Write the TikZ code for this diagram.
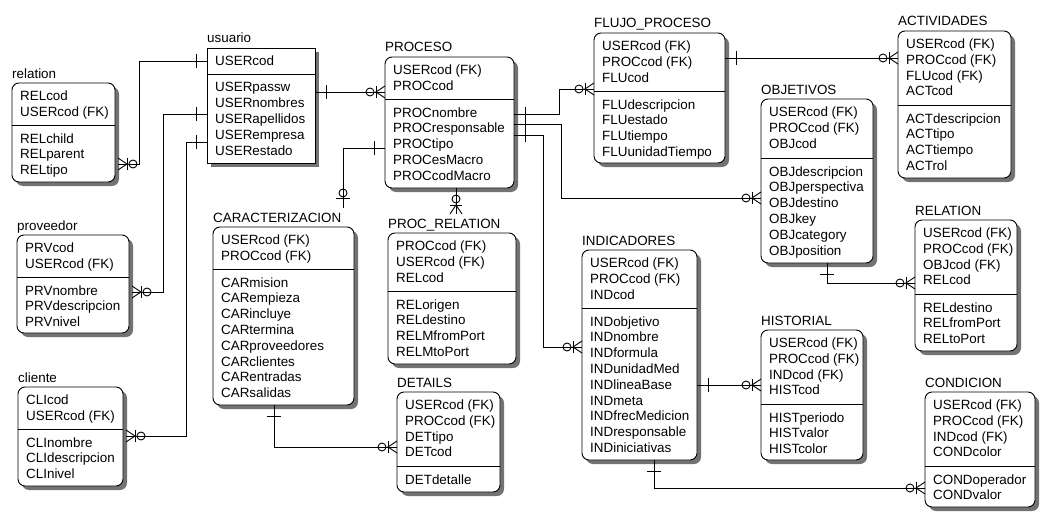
\documentclass[tikz,border=0pt]{standalone}
\usepackage{fontspec}
\setmainfont{Liberation Sans}
\usetikzlibrary{shadows,calc}
\tikzset{
  ebox/.style={draw, fill=white, line width=0.9pt, inner sep=0pt, outer sep=0pt,
    rounded corners=7pt,
    drop shadow={shadow xshift=4pt, shadow yshift=-4pt, fill=black!55, opacity=1}, eboxextra},
  eboxextra/.style={},
  etitle/.style={anchor=base west, inner sep=0pt, font=\fontsize{13.4}{16}\selectfont},
  erow/.style={anchor=base west, inner sep=0pt, font=\fontsize{13.4}{16}\selectfont},
  conn/.style={line width=0.9pt},
  one/.pic={\draw[conn] (-11pt,-7pt) -- (-11pt,7pt);},
  zmany/.pic={\draw[conn] (0pt,6pt) -- (-9pt,0pt) -- (0pt,-6pt);
              \draw[conn] (-9pt,-6pt) -- (-9pt,6pt);
              \draw[conn] (-15pt,0pt) circle[radius=4pt];},
  zone/.pic={\draw[conn] (-10pt,-7pt) -- (-10pt,7pt);
             \draw[conn] (-15pt,0pt) circle[radius=4pt];},
}
\newcommand{\entity}[9]{%
  \node[ebox, anchor=north west, minimum width={(#4-#2)*1pt}, minimum height={(#5-#3)*1pt}] (#1) at (#2,#3) {};
  \node[etitle] (#1-title) at (#2,#3-5) {#7};
  \draw[line width=0.9pt] (#2,#6) -- (#4,#6);
  \foreach \x [count=\i] in {#8} {\node[erow] (#1-k\i) at ({#2+8},{#3+17.5+15.8*(\i-1)}) {\x};}
  \foreach \x [count=\i] in {#9} {\node[erow] (#1-a\i) at ({#2+8},{#6+18+15.8*(\i-1)}) {\x};}
}
\begin{document}
\begin{tikzpicture}[x=1pt,y=-1pt]
\fill[white] (0,0) rectangle (1049,519);
\useasboundingbox (0,0) rectangle (1049,519);

\tikzset{eboxextra/.style={sharp corners}}
\entity{usuario}{207}{48}{315}{163}{74}{usuario}{USERcod}{USERpassw,USERnombres,USERapellidos,USERempresa,USERestado}
\tikzset{eboxextra/.style={}}
\entity{relL}{12}{83}{115}{182}{125}{relation}{RELcod,USERcod (FK)}{RELchild,RELparent,RELtipo}
\entity{prv}{17}{235}{129}{333}{277}{proveedor}{PRVcod,USERcod (FK)}{PRVnombre,PRVdescripcion,PRVnivel}
\entity{cli}{18}{387}{123}{486}{429}{cliente}{CLIcod,USERcod (FK)}{CLInombre,CLIdescripcion,CLInivel}
\entity{proc}{385}{57}{514}{188}{99}{PROCESO}{USERcod (FK),PROCcod}{PROCnombre,PROCresponsable,PROCtipo,PROCesMacro,PROCcodMacro}
\entity{car}{213}{227}{354}{405}{269}{CARACTERIZACION}{USERcod (FK),PROCcod (FK)}{CARmision,CARempieza,CARincluye,CARtermina,CARproveedores,CARclientes,CARentradas,CARsalidas}
\entity{prel}{388}{233}{516}{364}{291}{PROC\_RELATION}{PROCcod (FK),USERcod (FK),RELcod}{RELorigen,RELdestino,RELMfromPort,RELMtoPort}
\entity{det}{397}{392}{500}{492}{466}{DETAILS}{USERcod (FK),PROCcod (FK),DETtipo,DETcod}{DETdetalle}
\entity{flu}{594}{33}{725}{163}{91}{FLUJO\_PROCESO}{USERcod (FK),PROCcod (FK),FLUcod}{FLUdescripcion,FLUestado,FLUtiempo,FLUunidadTiempo}
\entity{act}{898}{31}{1011}{178}{105}{ACTIVIDADES}{USERcod (FK),PROCcod (FK),FLUcod (FK),ACTcod}{ACTdescripcion,ACTtipo,ACTtiempo,ACTrol}
\entity{obj}{761}{99}{873}{263}{158}{OBJETIVOS}{USERcod (FK),PROCcod (FK),OBJcod}{OBJdescripcion,OBJperspectiva,OBJdestino,OBJkey,OBJcategory,OBJposition}
\entity{relR}{915}{220}{1017}{351}{294}{RELATION}{USERcod (FK),PROCcod (FK),OBJcod (FK),RELcod}{RELdestino,RELfromPort,RELtoPort}
\entity{ind}{582}{250}{697}{460}{308}{INDICADORES}{USERcod (FK),PROCcod (FK),INDcod}{INDobjetivo,INDnombre,INDformula,INDunidadMed,INDlineaBase,INDmeta,INDfrecMedicion,INDresponsable,INDiniciativas}
\entity{his}{761}{330}{863}{460}{404}{HISTORIAL}{USERcod (FK),PROCcod (FK),INDcod (FK),HISTcod}{HISTperiodo,HISTvalor,HISTcolor}
\entity{cond}{925}{392}{1035}{507}{466}{CONDICION}{USERcod (FK),PROCcod (FK),INDcod (FK),CONDcolor}{CONDoperador,CONDvalor}

% connector end points
\coordinate (c1a) at ($(usuario.north west)+(0,13)$);
\coordinate (c1b) at ($(relL.north east)+(3,81)$);
\coordinate (c2a) at ($(usuario.north east)+(0,44)$);
\coordinate (c2b) at ($(proc.north west)+(0,35)$);
\coordinate (c3a) at ($(usuario.north west)+(0,66)$);
\coordinate (c3b) at ($(prv.north east)+(3,57)$);
\coordinate (c4a) at ($(usuario.north west)+(0,94)$);
\coordinate (c4b) at ($(cli.north east)+(3,49)$);
\coordinate (c5a) at ($(proc.north west)+(0,91)$);
\coordinate (c5b) at ($(car.north west)+(130,-19)$);
\coordinate (c6a) at ($(proc.south west)+(71,0)$);
\coordinate (c6b) at ($(prel.north west)+(68,-19)$);
\coordinate (c7a) at ($(proc.north east)+(0,57)$);
\coordinate (c7b) at ($(flu.north west)+(0,56)$);
\coordinate (c8a) at ($(proc.north east)+(0,67)$);
\coordinate (c8b) at ($(obj.north west)+(0,99)$);
\coordinate (c9a) at ($(proc.north east)+(0,78)$);
\coordinate (c9b) at ($(ind.north west)+(0,97)$);
\coordinate (c10a) at ($(flu.north east)+(0,25)$);
\coordinate (c10b) at ($(act.north west)+(0,27)$);
\coordinate (c11a) at ($(obj.south west)+(66,0)$);
\coordinate (c11b) at ($(relR.north west)+(0,63)$);
\coordinate (c12a) at ($(ind.north east)+(0,135)$);
\coordinate (c12b) at ($(his.north west)+(0,55)$);
\coordinate (c13a) at ($(ind.south west)+(72,0)$);
\coordinate (c13b) at ($(cond.north west)+(0,96)$);
\coordinate (c14a) at ($(car.south west)+(61,0)$);
\coordinate (c14b) at ($(det.north west)+(0,55)$);

\draw[conn] (c1a) -- ++(-68,0) |- (c1b);
\draw[conn] (c2a) -- (c2b);
\draw[conn] (c3a) -- ++(-44,0) |- (c3b);
\draw[conn] (c4a) -- ++(-21,0) |- (c4b);
\draw[conn] (c5a) -| (c5b);
\draw[conn] (c6a) -- (c6b);
\draw[conn] (c7a) -- ++(45,0) |- (c7b);
\draw[conn] (c8a) -- ++(47,0) |- (c8b);
\draw[conn] (c9a) -- ++(29,0) |- (c9b);
\draw[conn] (c10a) -- (c10b);
\draw[conn] (c11a) |- (c11b);
\draw[conn] (c12a) -- (c12b);
\draw[conn] (c13a) |- (c13b);
\draw[conn] (c14a) |- (c14b);

% relationship ends
\pic at (c1a) {one};          \pic[rotate=180] at (c1b) {zmany};
\pic[rotate=180] at (c2a) {one}; \pic at (c2b) {zmany};
\pic at (c3a) {one};          \pic[rotate=180] at (c3b) {zmany};
\pic at (c4a) {one};          \pic[rotate=180] at (c4b) {zmany};
\pic at (c5a) {one};          \pic[rotate=-90] at (c5b) {zone};
\pic[rotate=-90] at (c6b) {zmany};
\pic[rotate=180] at (c7a) {one}; \pic at (c7b) {zmany};
\pic[rotate=180] at (c8a) {one}; \pic at (c8b) {zmany};
\pic[rotate=180] at (c9a) {one}; \pic at (c9b) {zmany};
\pic[rotate=180] at (c10a) {one}; \pic at (c10b) {zmany};
\pic[rotate=90] at (c11a) {one}; \pic at (c11b) {zmany};
\pic[rotate=180] at (c12a) {one}; \pic at (c12b) {zmany};
\pic[rotate=90] at (c13a) {one}; \pic at (c13b) {zmany};
\pic[rotate=90] at (c14a) {one}; \pic at (c14b) {zmany};
\end{tikzpicture}
\end{document}
